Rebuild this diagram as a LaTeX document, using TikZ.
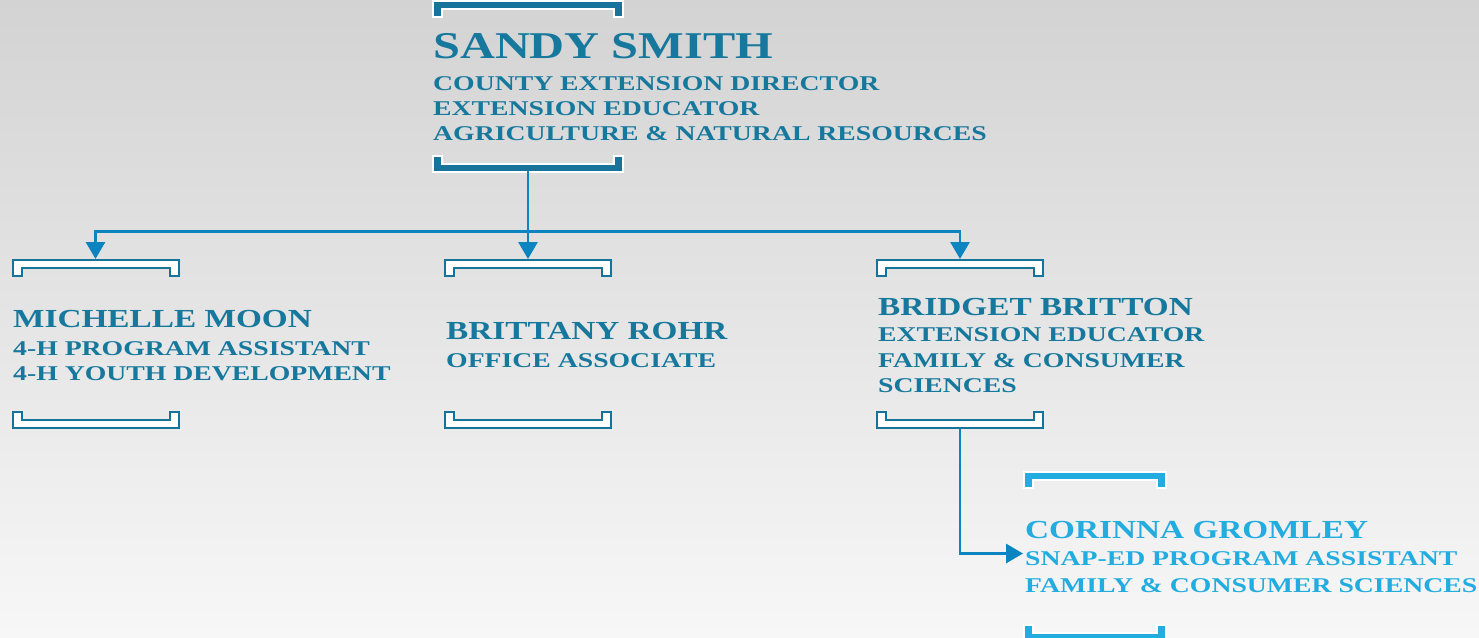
\documentclass[tikz,border=0pt]{standalone}
\usepackage{fontspec}
\usetikzlibrary{arrows.meta}
\newfontfamily\engname{Liberation Serif}[FakeStretch=1.28,UprightFont=* Bold]
\newfontfamily\engsub{Liberation Serif}[FakeStretch=1.32,UprightFont=* Bold]
\definecolor{txtblue}{HTML}{16789C}
\definecolor{brkblue}{HTML}{177399}
\definecolor{arrblue}{HTML}{0C84BF}
\definecolor{lightblue}{HTML}{22ACE0}
\tikzset{
  lbl/.style={anchor=base west,inner sep=0pt,text=txtblue},
  bigname/.style={lbl,font=\engname\fontsize{37.8}{40}\selectfont},
  topsub/.style={lbl,font=\engsub\fontsize{21}{24}\selectfont},
  pname/.style={lbl,font=\engname\fontsize{26}{28}\selectfont},
  psub/.style={lbl,font=\engsub\fontsize{21}{24}\selectfont},
  solidbrk/.style={fill=#1,draw=white,line width=2pt},
  openbrk/.style={fill=white,draw=brkblue,line width=2pt},
  conn/.style={draw=arrblue,line width=2.9pt},
  tip/.style={-{Triangle[width=19pt,length=17pt]}}
}
% top bracket (open downwards) and bottom bracket (open upwards)
\newcommand\mybrT[4]{\path[#4] (#1,#3)--(#2,#3)--(#2,#3+16)--(#2-9,#3+16)--(#2-9,#3+8)--(#1+9,#3+8)--(#1+9,#3+16)--(#1,#3+16)--cycle;}
\newcommand\mybrB[4]{\path[#4] (#1,#3)--(#1+9,#3)--(#1+9,#3+8)--(#2-9,#3+8)--(#2-9,#3)--(#2,#3)--(#2,#3+16)--(#1,#3+16)--cycle;}
\begin{document}
\begin{tikzpicture}[x=1pt,y=-1pt]
\useasboundingbox (0,0) rectangle (1479,637);
\shade[top color={rgb,255:red,211;green,211;blue,211},bottom color={rgb,255:red,247;green,247;blue,247}] (0,0) rectangle (1479,637);

% brackets
\mybrT{433}{623}{1}{solidbrk=brkblue}
\mybrB{433}{623}{155.5}{solidbrk=brkblue}
\mybrT{13}{179}{260}{openbrk}
\mybrB{13}{179}{412}{openbrk}
\mybrT{445}{611}{260}{openbrk}
\mybrB{445}{611}{412}{openbrk}
\mybrT{877}{1043}{260}{openbrk}
\mybrB{877}{1043}{412}{openbrk}
\mybrT{1024}{1166}{472}{solidbrk=lightblue}
\mybrB{1024}{1166}{625}{solidbrk=lightblue}

% texts
\node[bigname] (sandy) at (433,58) {SANDY SMITH};
\node[topsub] (sandy1) at (433,90) {COUNTY EXTENSION DIRECTOR};
\node[topsub] (sandy2) at (433,115) {EXTENSION EDUCATOR};
\node[topsub] (sandy3) at (433,140) {AGRICULTURE \& NATURAL RESOURCES};

\node[pname] (mich) at (13,327) {MICHELLE MOON};
\node[psub] (mich1) at (13,355) {4-H PROGRAM ASSISTANT};
\node[psub] (mich2) at (13,380) {4-H YOUTH DEVELOPMENT};

\node[pname] (brit) at (446,339) {BRITTANY ROHR};
\node[psub] (brit1) at (446,367) {OFFICE ASSOCIATE};

\node[pname] (brid) at (878,315) {BRIDGET BRITTON};
\node[psub] (brid1) at (878,341) {EXTENSION EDUCATOR};
\node[psub] (brid2) at (878,367) {FAMILY \& CONSUMER};
\node[psub] (brid3) at (878,392) {SCIENCES};

\node[pname,text=lightblue] (cor) at (1025,538) {CORINNA GROMLEY};
\node[psub,text=lightblue] (cor1) at (1025,565) {SNAP-ED PROGRAM ASSISTANT};
\node[psub,text=lightblue] (cor2) at (1025,592) {FAMILY \& CONSUMER SCIENCES};

% connector anchors
\coordinate (sandyBot) at (528,171);
\coordinate (bus) at (528,231.5);
\coordinate (michTop) at (95.5,259);
\coordinate (britTop) at (528,259);
\coordinate (bridTop) at (960,259);
\coordinate (bridBot) at (960,429);
\coordinate (corL) at (1023,553.5);

\draw[conn] (sandyBot) -- (bus);
\draw[conn,tip] (bus) -| (michTop);
\draw[conn,tip] (bus) -- (britTop);
\draw[conn,tip] (bus) -| (bridTop);
\draw[conn,tip] (bridBot) |- (corL);
\end{tikzpicture}
\end{document}
